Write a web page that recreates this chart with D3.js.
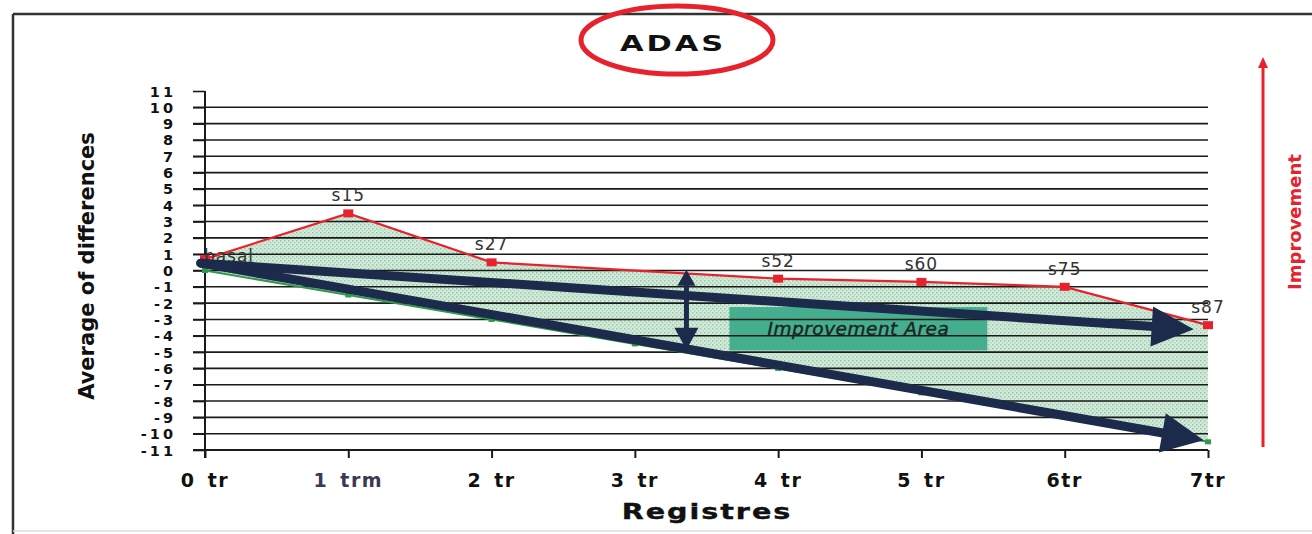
<!DOCTYPE html>
<html>
<head>
<meta charset="utf-8">
<script src="https://cdn.jsdelivr.net/npm/d3@7"></script>
<style>
  html, body { margin: 0; padding: 0; background: #fff; }
  svg { display: block; }
</style>
</head>
<body>
<svg id="chart" width="1312" height="534"></svg>
<script>
// Categories (registers) on the x axis
const categories = ["0 tr", "1 trm", "2 tr", "3 tr", "4 tr", "5 tr", "6tr", "7tr"];
// Observed average of differences (red series); no observation at 3 tr
const observed = [0.7, 3.5, 0.5, null, -0.5, -0.7, -1.0, -3.35];
const observedLabels = ["basal", "s15", "s27", "", "s52", "s60", "s75", "s87"];
// Expected decline (green series)
const expected = [0, -1.5, -3, -4.5, -6, -7.5, -9, -10.5];
// Y tick values
const yTicks = [11, 10, 9, 8, 7, 6, 5, 4, 3, 2, 1, 0, -1, -2, -3, -4, -5, -6, -7, -8, -9, -10, -11];

// Trend arrows, given as [category index, value]
const trendArrows = [
  { from: [-0.03, 0.45], to: [6.9, -3.6] },
  { from: [-0.03, 0.45], to: [6.97, -10.4] }
];
// Gap marker between the two trends and the area label box
const gapArrow = { at: 3.36, top: 0.05, bottom: -4.85 };
const areaBox = { x0: 3.66, x1: 5.46, y0: -2.24, y1: -4.9, text: "Improvement Area" };

(function draw() {
const svg = d3.select("#chart");
const plotLeft = 205, plotRight = 1208, plotTop = 91, plotBottom = 450;

const x = d3.scalePoint().domain(categories).range([plotLeft, plotRight]);
const xi = d3.scaleLinear().domain([0, categories.length - 1]).range([plotLeft, plotRight]);
const y = d3.scaleLinear().domain([-11, 11]).range([plotBottom, plotTop]);

const navy = "#1c2a4b", red = "#e8222d";

// Outer frame
svg.append("line").attr("x1", 13).attr("x2", 1312).attr("y1", 14).attr("y2", 14)
  .attr("stroke", "#333").attr("stroke-width", 2.5);
svg.append("line").attr("x1", 13).attr("x2", 13).attr("y1", 14).attr("y2", 534)
  .attr("stroke", "#333").attr("stroke-width", 2.5);
svg.append("line").attr("x1", 13).attr("x2", 1312).attr("y1", 531).attr("y2", 531)
  .attr("stroke", "#ddd").attr("stroke-width", 1.5);

// Dotted mint fill pattern
const defs = svg.append("defs");
const pat = defs.append("pattern").attr("id", "dots").attr("patternUnits", "userSpaceOnUse")
  .attr("width", 4).attr("height", 4);
pat.append("rect").attr("width", 4).attr("height", 4).attr("fill", "#d1eada");
pat.append("rect").attr("x", 0).attr("y", 0).attr("width", 1.5).attr("height", 1.5).attr("fill", "#98c6a6");
pat.append("rect").attr("x", 2).attr("y", 2).attr("width", 1.5).attr("height", 1.5).attr("fill", "#b0d4ba");

// Area between observed and expected
const redPts = categories.map((c, i) => ({ c, v: observed[i], label: observedLabels[i] }))
  .filter(d => d.v !== null);
const greenPts = categories.map((c, i) => ({ c, v: expected[i] }));
const poly = redPts.map(d => [x(d.c), y(d.v)])
  .concat(greenPts.slice().reverse().map(d => [x(d.c), y(d.v)]));
svg.append("path").attr("d", d3.line()(poly) + "Z").attr("fill", "url(#dots)");

// Improvement area box
svg.append("rect")
  .attr("x", xi(areaBox.x0)).attr("y", y(areaBox.y0))
  .attr("width", xi(areaBox.x1) - xi(areaBox.x0)).attr("height", y(areaBox.y1) - y(areaBox.y0))
  .attr("fill", "#44ae8e");

// Horizontal gridlines
const gridVals = yTicks.filter(v => v > -11 && v < 11);
svg.append("g").selectAll("line").data(gridVals).join("line")
  .attr("x1", plotLeft - 12).attr("x2", plotRight)
  .attr("y1", d => y(d)).attr("y2", d => y(d))
  .attr("stroke", "#1a1a1a").attr("stroke-width", 1.6);

// Y axis
const yAxis = d3.axisLeft(y).tickValues(yTicks).tickSize(12).tickFormat("");
const yg = svg.append("g").attr("transform", `translate(${plotLeft},0)`).call(yAxis);
yg.select(".domain").remove();
yg.selectAll(".tick line").attr("stroke", "#1a1a1a").attr("stroke-width", 1.6);
svg.append("line").attr("x1", plotLeft).attr("x2", plotLeft).attr("y1", plotTop).attr("y2", plotBottom + 8)
  .attr("stroke", "#1a1a1a").attr("stroke-width", 2);
svg.append("g").selectAll("text").data(yTicks).join("text")
  .attr("x", 176).attr("y", d => y(d) + 5.5)
  .attr("text-anchor", "end")
  .attr("font-family", "DejaVu Sans").attr("font-weight", "bold").attr("font-size", 14.5)
  .attr("letter-spacing", 3)
  .attr("fill", "#111")
  .text(d => d);

// X axis
const xAxis = d3.axisBottom(x).tickSize(8).tickFormat("");
const xg = svg.append("g").attr("transform", `translate(0,${plotBottom})`).call(xAxis);
xg.select(".domain").remove();
xg.selectAll(".tick line").attr("stroke", "#1a1a1a").attr("stroke-width", 2);
svg.append("line").attr("x1", plotLeft - 12).attr("x2", plotRight).attr("y1", plotBottom).attr("y2", plotBottom)
  .attr("stroke", "#1a1a1a").attr("stroke-width", 1.8);
svg.append("g").selectAll("text").data(categories).join("text")
  .attr("x", d => x(d)).attr("y", 487)
  .attr("text-anchor", "middle")
  .attr("font-family", "DejaVu Sans").attr("font-weight", "bold").attr("font-size", 19)
  .attr("letter-spacing", 1.5).attr("word-spacing", 4)
  .attr("fill", d => d === "1 trm" ? "#3b3956" : "#111")
  .text(d => d);

// Axis titles
svg.append("text")
  .attr("transform", `translate(707,519) scale(1.3,1)`)
  .attr("text-anchor", "middle")
  .attr("font-family", "DejaVu Sans").attr("font-weight", "bold").attr("font-size", 22)
  .attr("letter-spacing", 1.5).attr("stroke", "#111").attr("stroke-width", 0.4)
  .attr("fill", "#111").text("Registres");
svg.append("text")
  .attr("transform", "translate(94,266) rotate(-90)")
  .attr("text-anchor", "middle")
  .attr("font-family", "DejaVu Sans").attr("font-weight", "bold").attr("font-size", 21)
  .attr("fill", "#111").text("Average of differences");

// Expected line (green)
svg.append("path").datum(greenPts)
  .attr("d", d3.line().x(d => x(d.c)).y(d => y(d.v)))
  .attr("fill", "none").attr("stroke", "#2f9a4a").attr("stroke-width", 2);
svg.append("g").selectAll("rect").data(greenPts).join("rect")
  .attr("x", d => x(d.c) - 3).attr("y", d => y(d.v) - 2.5).attr("width", 6).attr("height", 5)
  .attr("fill", "#2f9a4a");

// Observed line (red)
svg.append("path").datum(redPts)
  .attr("d", d3.line().x(d => x(d.c)).y(d => y(d.v)))
  .attr("fill", "none").attr("stroke", red).attr("stroke-width", 2.2);
svg.append("g").selectAll("rect").data(redPts).join("rect")
  .attr("x", d => x(d.c) - 5).attr("y", d => y(d.v) - 4).attr("width", 10).attr("height", 8)
  .attr("fill", red);

// Point labels; the baseline label sits under the trend arrows, the rest above them
function pointLabels(data) {
  svg.append("g").selectAll("text").data(data).join("text")
    .attr("x", d => x(d.c) + (d.label === "basal" ? 24 : 0))
    .attr("y", d => y(d.v) + (d.label === "basal" ? 3 : -12))
    .attr("text-anchor", "middle")
    .attr("font-family", "DejaVu Sans").attr("font-size", 17).attr("letter-spacing", 1)
    .attr("fill", "#333").text(d => d.label);
}
pointLabels(redPts.filter(d => d.label === "basal"));

// Arrow helper: shaft plus filled triangular head
function arrow(x1, y1, x2, y2, w, headLen, headHalf) {
  const dx = x2 - x1, dy = y2 - y1, len = Math.hypot(dx, dy);
  const ux = dx / len, uy = dy / len, px = -uy, py = ux;
  const bx = x2 - ux * headLen, by = y2 - uy * headLen;
  svg.append("line").attr("x1", x1).attr("y1", y1).attr("x2", bx + ux * 2).attr("y2", by + uy * 2)
    .attr("stroke", navy).attr("stroke-width", w).attr("stroke-linecap", "round");
  svg.append("path")
    .attr("d", `M${x2},${y2}L${bx + px * headHalf},${by + py * headHalf}L${bx - px * headHalf},${by - py * headHalf}Z`)
    .attr("fill", navy);
}
trendArrows.forEach(a => {
  arrow(xi(a.from[0]), y(a.from[1]), xi(a.to[0]), y(a.to[1]), 9, 42, 20);
});
// Double-headed gap arrow
const gx = xi(gapArrow.at), gt = y(gapArrow.top), gb = y(gapArrow.bottom);
const mid = (gt + gb) / 2;
arrow(gx, mid, gx, gt, 5, 16, 9);
arrow(gx, mid, gx, gb, 5, 22, 12);

pointLabels(redPts.filter(d => d.label !== "basal"));

// Area box label
svg.append("text")
  .attr("x", (xi(areaBox.x0) + xi(areaBox.x1)) / 2).attr("y", (y(areaBox.y0) + y(areaBox.y1)) / 2 + 6)
  .attr("text-anchor", "middle")
  .attr("font-family", "DejaVu Sans").attr("font-style", "italic").attr("font-size", 18.5)
  .attr("letter-spacing", 0.5).attr("stroke", "#1a2424").attr("stroke-width", 0.4)
  .attr("fill", "#1a2424").text(areaBox.text);

// Title in red ellipse
svg.append("ellipse").attr("cx", 677).attr("cy", 40).attr("rx", 96).attr("ry", 34)
  .attr("fill", "none").attr("stroke", red).attr("stroke-width", 5);
svg.append("text")
  .attr("transform", "translate(673,51) scale(1.45,1)")
  .attr("text-anchor", "middle")
  .attr("font-family", "DejaVu Sans").attr("font-weight", "bold").attr("font-size", 21)
  .attr("letter-spacing", 2)
  .attr("fill", "#111").text("ADAS");

// Improvement direction arrow (right side)
svg.append("line").attr("x1", 1263).attr("x2", 1263).attr("y1", 66).attr("y2", 447)
  .attr("stroke", red).attr("stroke-width", 3);
svg.append("path").attr("d", "M1263,57L1258,68L1268,68Z").attr("fill", red);
svg.append("text")
  .attr("transform", "translate(1301,222) rotate(-90)")
  .attr("text-anchor", "middle")
  .attr("font-family", "DejaVu Sans").attr("font-weight", "bold").attr("font-size", 18)
  .attr("fill", red).text("Improvement");
})();
</script>
</body>
</html>
